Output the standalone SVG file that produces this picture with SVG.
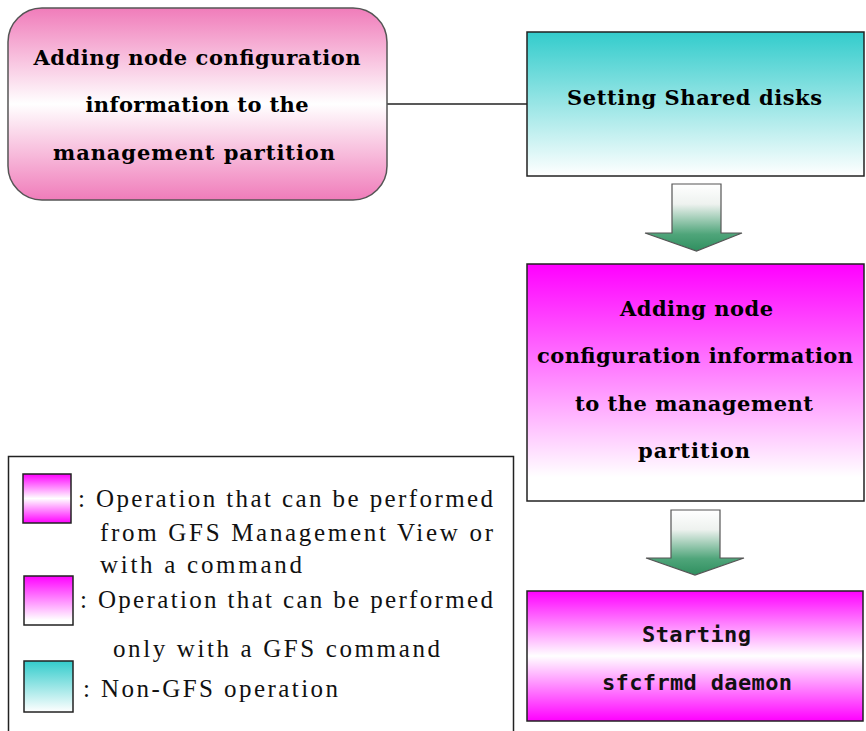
<svg xmlns="http://www.w3.org/2000/svg" width="866" height="731" viewBox="0 0 866 731">
<style>
.nt{font-family:"DejaVu Serif","Liberation Serif",serif;font-weight:bold;font-size:21px;fill:#000;text-anchor:middle}
.mono{font-family:"DejaVu Sans Mono","Liberation Mono",monospace;font-weight:bold;font-size:22px;fill:#111;text-anchor:middle}
.lg{font-family:"Liberation Serif","Times New Roman",serif;font-size:25px;fill:#111}
.box{stroke:#222;stroke-width:1.5}
.conn{stroke:#222;stroke-width:1.5;fill:none}
.arr{fill:url(#gArrow);stroke:#555;stroke-width:1.2}
</style>
<defs>
<linearGradient id="gPink" x1="0" y1="0" x2="0" y2="1">
<stop offset="0" stop-color="#f07cba"/><stop offset="0.5" stop-color="#ffffff"/><stop offset="1" stop-color="#f07cba"/>
</linearGradient>
<linearGradient id="gMagMid" x1="0" y1="0" x2="0" y2="1">
<stop offset="0" stop-color="#ff00ff"/><stop offset="0.5" stop-color="#ffffff"/><stop offset="1" stop-color="#ff00ff"/>
</linearGradient>
<linearGradient id="gMagTop" x1="0" y1="0" x2="0" y2="1">
<stop offset="0" stop-color="#ff00ff"/><stop offset="0.9" stop-color="#ffffff"/><stop offset="1" stop-color="#ffffff"/>
</linearGradient>
<linearGradient id="gCyan" x1="0" y1="0" x2="0" y2="1">
<stop offset="0" stop-color="#33cccc"/><stop offset="1" stop-color="#ffffff"/>
</linearGradient>
<linearGradient id="gArrow" x1="0" y1="0" x2="0" y2="1">
<stop offset="0" stop-color="#ffffff"/><stop offset="0.3" stop-color="#eef2ef"/><stop offset="0.75" stop-color="#4fa57a"/><stop offset="1" stop-color="#2f8f5f"/>
</linearGradient>
</defs>
<rect width="866" height="731" fill="#ffffff"/>

<g id="connectors">
<line class="conn" x1="387" y1="104" x2="527" y2="104"/>
<polygon class="arr" points="672,184 721,184 721,233 742,233 696.5,251 645,233 672,233"/>
<polygon class="arr" points="671,510 720,510 720,558 744,558 695,575 646,558 671,558"/>
</g>

<g id="node-add-mgmt">
<rect x="8" y="8" width="379" height="192" rx="34" ry="34" fill="url(#gPink)" stroke="#555" stroke-width="1.5"/>
<text class="nt" x="197" y="65" textLength="327" lengthAdjust="spacing">Adding node configuration</text>
<text class="nt" x="197" y="112" textLength="223" lengthAdjust="spacing">information to the</text>
<text class="nt" x="194" y="160" textLength="282" lengthAdjust="spacing">management partition</text>
</g>

<g id="node-shared-disks">
<rect class="box" x="527" y="32" width="337" height="144" fill="url(#gCyan)"/>
<text class="nt" x="694.5" y="105" textLength="255" lengthAdjust="spacing">Setting Shared disks</text>
</g>

<g id="node-add-config">
<rect class="box" x="527" y="264" width="337" height="237" fill="url(#gMagTop)"/>
<text class="nt" x="696.5" y="316" textLength="153" lengthAdjust="spacing">Adding node</text>
<text class="nt" x="695" y="363" textLength="316" lengthAdjust="spacing">configuration information</text>
<text class="nt" x="694" y="411" textLength="238" lengthAdjust="spacing">to the management</text>
<text class="nt" x="694" y="458" textLength="112" lengthAdjust="spacing">partition</text>
</g>

<g id="node-sfcfrmd">
<rect class="box" x="527" y="591" width="336" height="130" fill="url(#gMagMid)"/>
<text class="mono" x="696.5" y="642" textLength="109" lengthAdjust="spacing">Starting</text>
<text class="mono" x="697" y="690" textLength="190" lengthAdjust="spacing">sfcfrmd daemon</text>
</g>

<g id="legend">
<rect x="8.5" y="456.5" width="505" height="290" fill="#ffffff" stroke="#222" stroke-width="1.5"/>
<rect class="box" x="23" y="474" width="48" height="49" fill="url(#gMagMid)"/>
<rect class="box" x="24" y="576" width="49" height="49" fill="url(#gMagTop)"/>
<rect class="box" x="24" y="661" width="49" height="51" fill="url(#gCyan)"/>
<text class="lg" x="78" y="507" textLength="415" lengthAdjust="spacing">: Operation that can be performed</text>
<text class="lg" x="100" y="541" textLength="393" lengthAdjust="spacing">from GFS Management View or</text>
<text class="lg" x="100" y="573" textLength="202" lengthAdjust="spacing">with a command</text>
<text class="lg" x="80" y="608" textLength="413" lengthAdjust="spacing">: Operation that can be performed</text>
<text class="lg" x="113" y="657" textLength="327" lengthAdjust="spacing">only with a GFS command</text>
<text class="lg" x="83" y="697" textLength="255" lengthAdjust="spacing">:  Non-GFS operation</text>
</g>
</svg>
